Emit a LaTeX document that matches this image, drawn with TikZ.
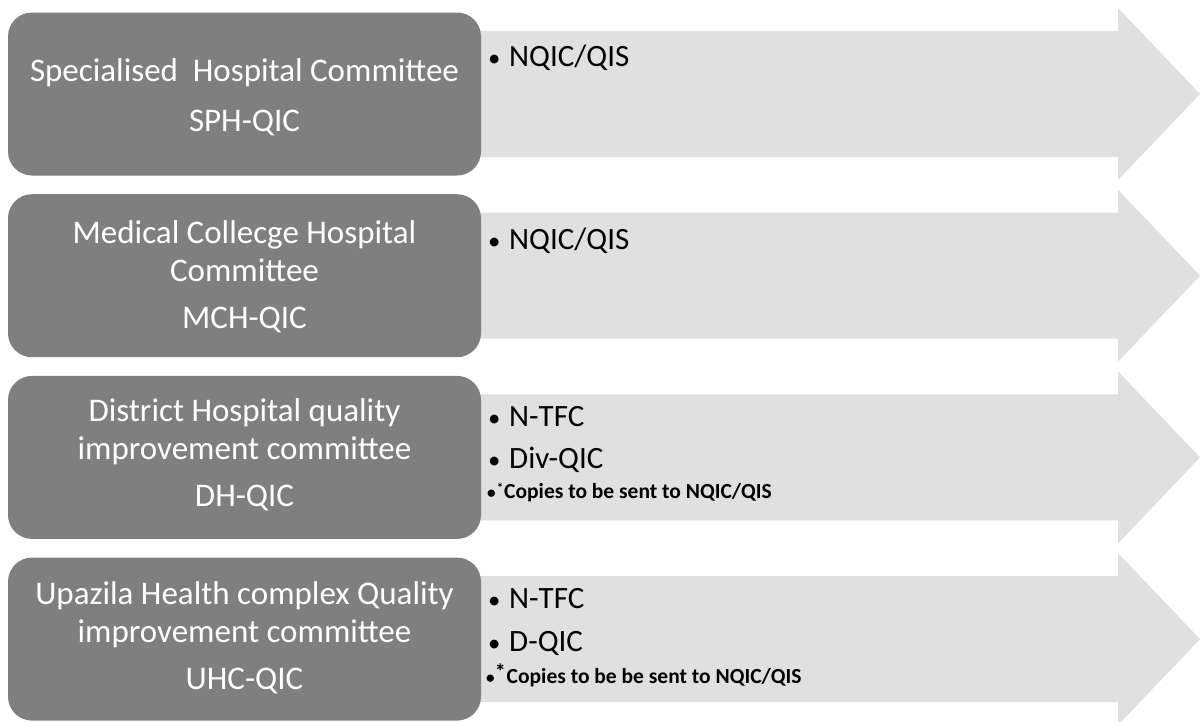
\documentclass[tikz,border=0pt]{standalone}
\usepackage{fontspec}
\setmainfont{Carlito}
\definecolor{boxgray}{RGB}{127,127,127}
\definecolor{arrowgray}{RGB}{224,224,224}
\newcommand{\blt}[1]{\makebox[21pt][l]{\scalebox{0.8}{•}}#1}
\begin{document}
\begin{tikzpicture}[x=1pt,y=-1pt,
  lbox/.style={draw=none, fill=boxgray, rounded corners=24pt, minimum width=473pt, minimum height=163pt, inner sep=0pt},
  ltext/.style={text=white, align=center, font=\fontsize{33}{38}\selectfont, inner sep=0pt},
  rtext/.style={anchor=base west, font=\fontsize{31}{36}\selectfont, inner sep=0pt, text=black},
  ctext/.style={anchor=base west, font=\bfseries\fontsize{21.5}{24}\selectfont, inner sep=0pt, text=black},
  arrowshape/.style={fill=arrowgray, draw=none}]
\useasboundingbox (0,0) rectangle (1201,721);
\fill[white] (0,0) rectangle (1201,721);
% arrows
\foreach \c in {94,275.7,457.4,639.1}{
  \fill[arrowshape] (470,\c-63) -- (1118,\c-63) -- (1118,\c-86) -- (1200,\c)
    -- (1118,\c+86) -- (1118,\c+63) -- (470,\c+63) -- cycle;
}
% left boxes
\node[lbox] (b1) at (244.5,94) {};
\node[lbox] (b2) at (244.5,275.7) {};
\node[lbox] (b3) at (244.5,457.4) {};
\node[lbox] (b4) at (244.5,639.1) {};
% left texts
\node[ltext] (t1) at (244.5,97) {Specialised~ Hospital Committee\\[12pt]SPH-QIC};
\node[ltext] (t2) at (244.5,277) {Medical Collecge Hospital\\Committee\\[9pt]MCH-QIC};
\node[ltext] (t3) at (244.5,455) {District Hospital quality\\improvement committee\\[9pt]DH-QIC};
\node[ltext] (t4) at (244.5,638) {Upazila Health complex Quality\\improvement committee\\[9pt]UHC-QIC};
% right texts
\node[rtext] (r1a) at (488,66) {\blt{NQIC/QIS}};
\node[rtext] (r2a) at (488,249) {\blt{NQIC/QIS}};
\node[rtext] (r3a) at (488,426) {\blt{N-TFC}};
\node[rtext] (r3b) at (488,468) {\blt{Div-QIC}};
\node[ctext] (r3c) at (487,498) {\scalebox{0.8}{•}\hspace{1pt}\raisebox{6pt}{\fontsize{13}{13}\selectfont *}\hspace{1pt}Copies to be sent to NQIC/QIS};
\node[rtext] (r4a) at (488,608) {\blt{N-TFC}};
\node[rtext] (r4b) at (488,651) {\blt{D-QIC}};
\node[ctext] (r4c) at (486,683) {\scalebox{0.8}{•}\raisebox{4pt}{\fontsize{22}{22}\selectfont *}\hspace{1pt}Copies to be be sent to NQIC/QIS};
\end{tikzpicture}
\end{document}
